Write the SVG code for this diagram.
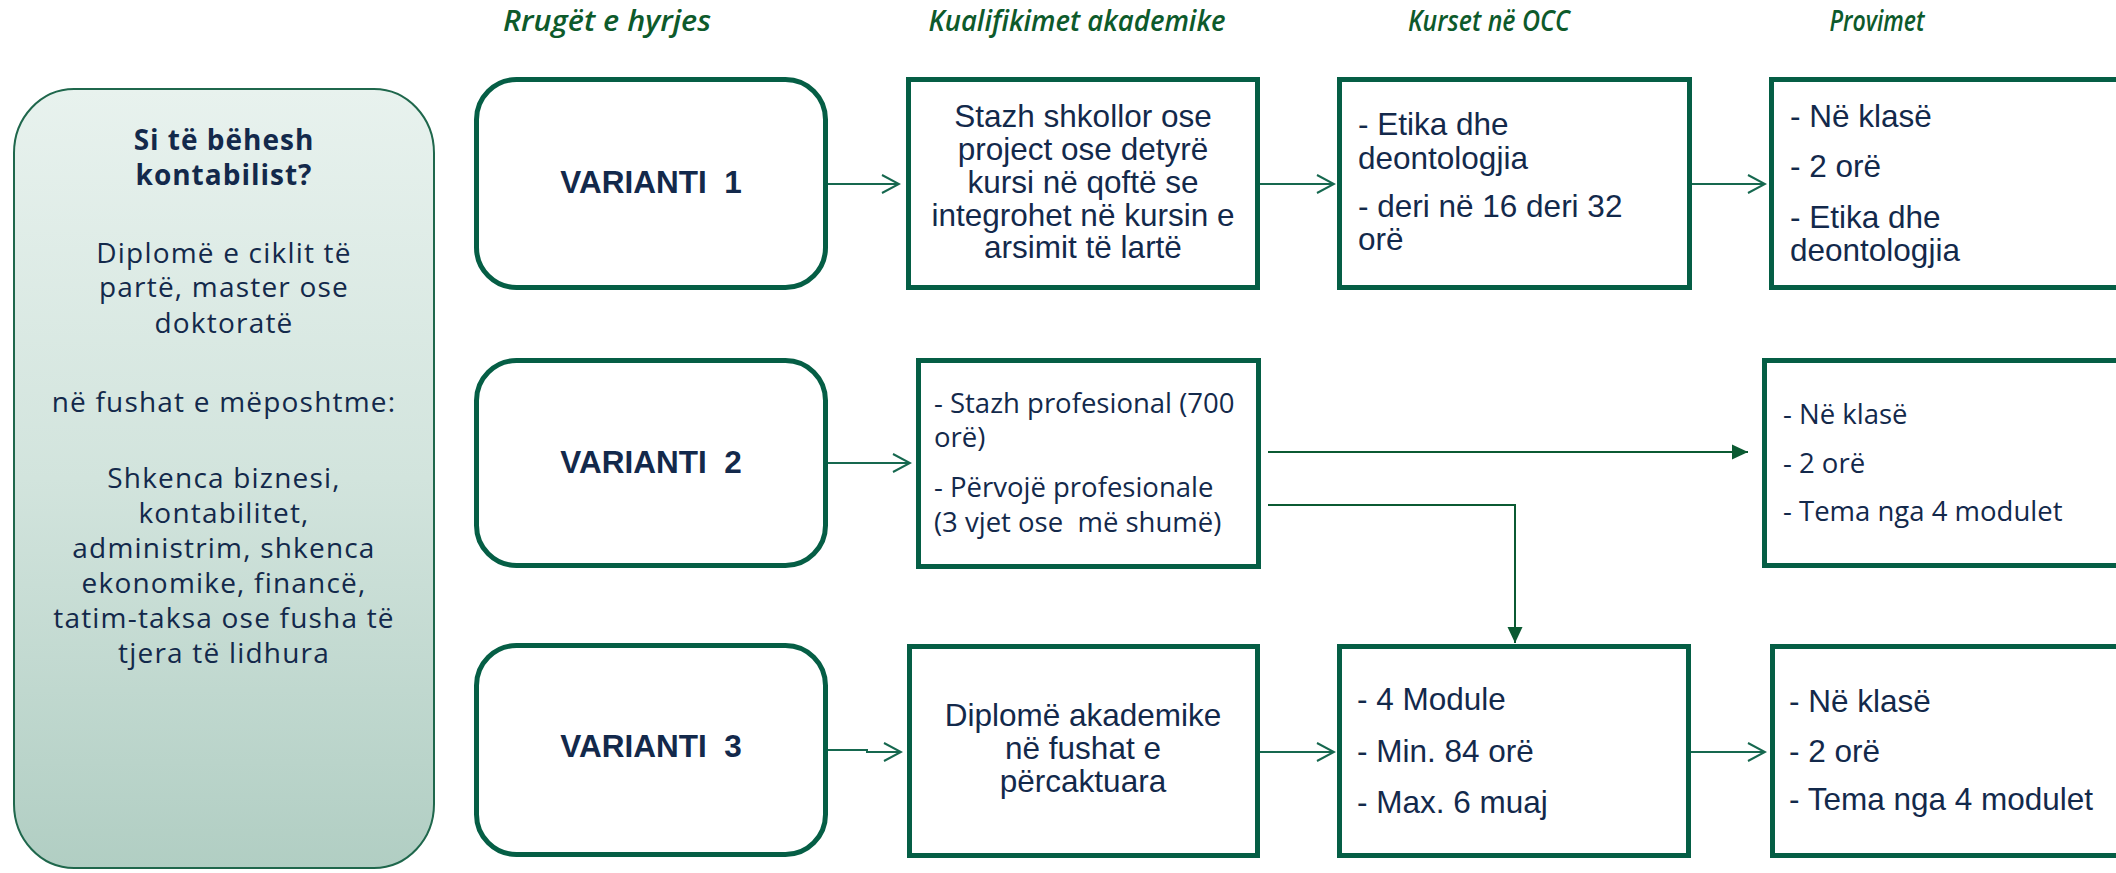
<svg xmlns="http://www.w3.org/2000/svg" width="2116" height="873" viewBox="0 0 2116 873">
<defs>
<linearGradient id="lg" x1="0" y1="0" x2="0" y2="1">
<stop offset="0" stop-color="#e8f2ee"/>
<stop offset="0.5" stop-color="#d2e4dd"/>
<stop offset="1" stop-color="#b1cec3"/>
</linearGradient>
<marker id="chev" viewBox="0 0 20 20" refX="18" refY="10" markerWidth="20" markerHeight="20" markerUnits="userSpaceOnUse" orient="auto">
<polyline points="1,1 18,10 1,19" fill="none" stroke="#16684f" stroke-width="2"/>
</marker>
<marker id="tri" viewBox="0 0 16 16" refX="16" refY="8" markerWidth="16" markerHeight="16" markerUnits="userSpaceOnUse" orient="auto">
<polygon points="0,0.5 16,8 0,15.5" fill="#0b5a32"/>
</marker>
<style>
.hdr{font-family:"Open Sans","Liberation Sans",sans-serif;font-style:italic;font-weight:600;font-size:29px;fill:#0d5a2b;text-anchor:middle}
.lt{font-family:"Open Sans","Liberation Sans",sans-serif;font-size:28px;letter-spacing:1.2px;fill:#13294b;text-anchor:middle}
.ltb{font-weight:bold;letter-spacing:1px}
.var{fill:#fff;stroke:#055e45;stroke-width:5}
.box{fill:#fff;stroke:#055e45;stroke-width:5}
.vt{font-family:"Liberation Sans",Arial,sans-serif;font-weight:bold;font-size:31.5px;fill:#13294b;text-anchor:middle}
.at{font-family:"Liberation Sans",Arial,sans-serif;font-size:31.5px;fill:#13294b}
.ct{text-anchor:middle}
.ot{font-family:"Open Sans","Liberation Sans",sans-serif;font-size:27.5px;fill:#13294b}
.cl{fill:none;stroke:#16684f;stroke-width:2;marker-end:url(#chev)}
.fl{fill:none;stroke:#0b5a32;stroke-width:2;marker-end:url(#tri)}
</style>
</defs>
<rect width="2116" height="873" fill="#fff"/>

<g id="headers">
<text class="hdr" x="607" y="31" textLength="208" lengthAdjust="spacingAndGlyphs">Rrugët e hyrjes</text>
<text class="hdr" x="1077" y="31" textLength="297" lengthAdjust="spacingAndGlyphs">Kualifikimet akademike</text>
<text class="hdr" x="1489" y="31" textLength="162" lengthAdjust="spacingAndGlyphs">Kurset në OCC</text>
<text class="hdr" x="1877" y="31" textLength="95" lengthAdjust="spacingAndGlyphs">Provimet</text>
</g>

<g id="intro">
<rect x="14" y="89" width="420" height="779" rx="60" ry="64" fill="url(#lg)" stroke="#1f674c" stroke-width="2"/>
<text class="lt ltb" x="224" y="150">Si të bëhesh</text>
<text class="lt ltb" x="224" y="185">kontabilist?</text>
<text class="lt" x="224" y="263">Diplomë e ciklit të</text>
<text class="lt" x="224" y="297">partë, master ose</text>
<text class="lt" x="224" y="333">doktoratë</text>
<text class="lt" x="224" y="412">në fushat e mëposhtme:</text>
<text class="lt" x="224" y="488">Shkenca biznesi,</text>
<text class="lt" x="224" y="523">kontabilitet,</text>
<text class="lt" x="224" y="558">administrim, shkenca</text>
<text class="lt" x="224" y="593">ekonomike, financë,</text>
<text class="lt" x="224" y="628">tatim-taksa ose fusha të</text>
<text class="lt" x="224" y="663">tjera të lidhura</text>
</g>

<g id="v1">
<rect class="var" x="476.5" y="79.5" width="349" height="208" rx="40"/>
<text class="vt" x="651" y="193">VARIANTI&#160;&#160;1</text>
</g>
<g id="v2">
<rect class="var" x="476.5" y="360.5" width="349" height="205" rx="40"/>
<text class="vt" x="651" y="473">VARIANTI&#160;&#160;2</text>
</g>
<g id="v3">
<rect class="var" x="476.5" y="645.5" width="349" height="209" rx="40"/>
<text class="vt" x="651" y="757">VARIANTI&#160;&#160;3</text>
</g>

<g id="q1">
<rect class="box" x="908.5" y="79.5" width="349" height="208"/>
<text class="at ct" x="1083" y="127">Stazh shkollor ose</text>
<text class="at ct" x="1083" y="160">project ose detyrë</text>
<text class="at ct" x="1083" y="193">kursi në qoftë se</text>
<text class="at ct" x="1083" y="226">integrohet në kursin e</text>
<text class="at ct" x="1083" y="258">arsimit të lartë</text>
</g>
<g id="q2">
<rect class="box" x="918.5" y="360.5" width="340" height="206"/>
<text class="ot" x="934" y="413">- Stazh profesional (700</text>
<text class="ot" x="934" y="447">orë)</text>
<text class="ot" x="934" y="497">- Përvojë profesionale</text>
<text class="ot" x="934" y="532" xml:space="preserve">(3 vjet ose  më shumë)</text>
</g>
<g id="q3">
<rect class="box" x="909.5" y="646.5" width="348" height="209"/>
<text class="at ct" x="1083" y="726">Diplomë akademike</text>
<text class="at ct" x="1083" y="759">në fushat e</text>
<text class="at ct" x="1083" y="792">përcaktuara</text>
</g>

<g id="occ1">
<rect class="box" x="1339.5" y="79.5" width="350" height="208"/>
<text class="at" x="1358" y="135">- Etika dhe</text>
<text class="at" x="1358" y="169">deontologjia</text>
<text class="at" x="1358" y="217">- deri në 16 deri 32</text>
<text class="at" x="1358" y="250">orë</text>
</g>
<g id="occ3">
<rect class="box" x="1339.5" y="646.5" width="349" height="209"/>
<text class="at" x="1357" y="710">- 4 Module</text>
<text class="at" x="1357" y="762">- Min. 84 orë</text>
<text class="at" x="1357" y="813">- Max. 6 muaj</text>
</g>

<g id="p1">
<rect class="box" x="1771.5" y="79.5" width="400" height="208"/>
<text class="at" x="1790" y="127">- Në klasë</text>
<text class="at" x="1790" y="177">- 2 orë</text>
<text class="at" x="1790" y="228">- Etika dhe</text>
<text class="at" x="1790" y="261">deontologjia</text>
</g>
<g id="p2">
<rect class="box" x="1764.5" y="360.5" width="400" height="205"/>
<text class="ot" x="1783" y="424">- Në klasë</text>
<text class="ot" x="1783" y="473">- 2 orë</text>
<text class="ot" x="1783" y="521">- Tema nga 4 modulet</text>
</g>
<g id="p3">
<rect class="box" x="1772.5" y="646.5" width="400" height="209"/>
<text class="at" x="1789" y="712">- Në klasë</text>
<text class="at" x="1789" y="762">- 2 orë</text>
<text class="at" x="1789" y="810">- Tema nga 4 modulet</text>
</g>

<g id="connectors">
<path class="cl" d="M828 184 H899"/>
<path class="cl" d="M1260 184 H1334"/>
<path class="cl" d="M1692 184 H1765"/>
<path class="cl" d="M828 463 H910"/>
<path class="cl" d="M828 750 H867 V752 H901"/>
<path class="cl" d="M1260 752 H1334"/>
<path class="cl" d="M1691 752 H1765"/>
<path class="fl" d="M1268 452 H1748"/>
<path class="fl" d="M1268 505 H1515 V643"/>
</g>
</svg>
